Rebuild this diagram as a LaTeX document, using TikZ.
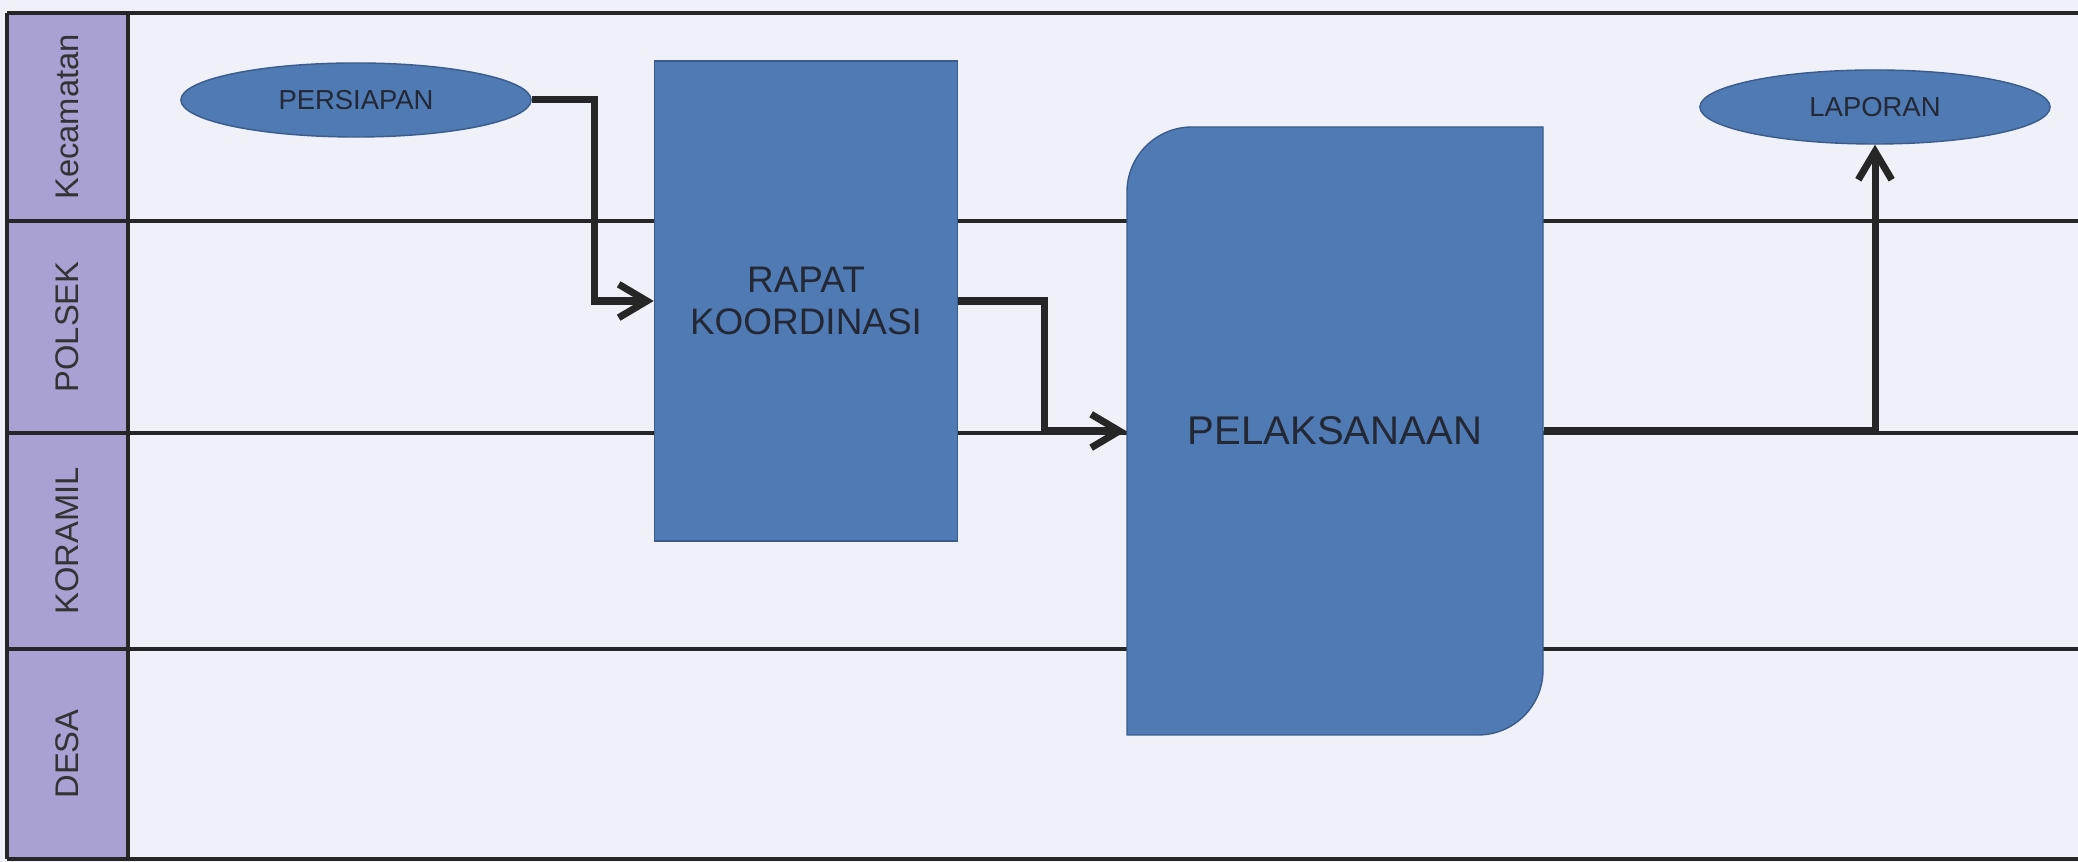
\documentclass[tikz,border=0pt]{standalone}
\usepackage{fontspec}
\setmainfont{Liberation Sans}
\usetikzlibrary{shapes.geometric, arrows.meta}
\definecolor{latar}{RGB}{239,240,248}
\definecolor{ungu}{RGB}{169,160,211}
\definecolor{biru}{RGB}{79,122,180}
\definecolor{birutua}{RGB}{58,92,140}
\definecolor{teks}{RGB}{35,40,52}
\tikzstyle{terminal} = [
    ellipse, minimum width=3.5cm, minimum height=0.74cm, inner sep=0pt,
    text centered, draw=birutua, fill=biru, text=teks,
    font=\fontsize{7.8}{9}\selectfont
]
\tikzstyle{process} = [
    rectangle, minimum width=3.03cm, minimum height=4.8cm, inner sep=0pt,
    text centered, align=center, draw=birutua, fill=biru, text=teks,
    font=\fontsize{10.5}{12}\selectfont
]
\tikzstyle{lane} = [line width=1.2pt, draw=black!85]
\tikzstyle{lanelabel} = [rotate=90, text=black!80, font=\fontsize{9.3}{11}\selectfont]
\tikzstyle{arrow} = [line width=2pt, draw=black!85, ->, >={Straight Barb[length=8pt,width=9.5pt]}]

\begin{document}
\begin{tikzpicture}[x=0.01cm, y=-0.01cm]
\useasboundingbox (0,0) rectangle (2078,862);
\fill[latar] (0,0) rectangle (2078,862);

% Jalur (lanes)
\fill[ungu] (7,13) rectangle (128,859);
\draw[lane] (7,13) -- (7,859);
\draw[lane] (128,13) -- (128,859);
\foreach \y in {13,221,433,649,859}
    \draw[lane] (7,\y) -- (2078,\y);

\node (lKec) [lanelabel] at (67,117) {Kecamatan};
\node (lPol) [lanelabel] at (67,327) {POLSEK};
\node (lKor) [lanelabel] at (67,541) {KORAMIL};
\node (lDes) [lanelabel] at (67,754) {DESA};

% Langkah
\node (per)   [terminal] at (356,100)  {PERSIAPAN};
\node (rapat) [process]  at (806,301)  {RAPAT\\KOORDINASI};
\filldraw[draw=birutua, fill=biru] (1127,735) [rounded corners=0.65cm] -- (1127,127) [sharp corners] -- (1543,127) [rounded corners=0.65cm] -- (1543,735) [sharp corners] -- cycle;
\node (pel)   [minimum width=4.16cm, minimum height=6.08cm, text=teks,
               font=\fontsize{11.4}{13}\selectfont] at (1335,431) {PELAKSANAAN};
\node (lap)   [terminal] at (1875,107) {LAPORAN};

% Panah
\draw [arrow] (per.east) -- ++(63,0) |- (rapat.west);
\draw [arrow] (rapat.east) -- ++(86,0) |- (pel.west);
\draw [arrow] (pel.east) -| (lap.south);

\end{tikzpicture}
\end{document}
